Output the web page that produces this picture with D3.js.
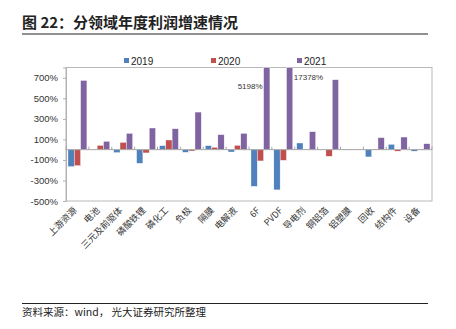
<!DOCTYPE html>
<html>
<head>
<meta charset="utf-8">
<script src="https://cdn.jsdelivr.net/npm/d3@7"></script>
<style>
body { margin: 0; background: #fff; }
text { font-family: "Liberation Sans", Arial, "Noto Sans CJK SC", sans-serif; }
.cjk { font-family: "Noto Sans CJK SC", sans-serif; }
</style>
</head>
<body>
<svg id="chart" width="456" height="329"></svg>
<script>
var categories = ["上游资源", "电池", "三元及前驱体", "磷酸铁锂", "磷化工", "负极", "隔膜", "电解液",
	"6F", "PVDF", "导电剂", "铜铝箔", "铝塑膜", "回收", "结构件", "设备"];
var seriesNames = ["2019", "2020", "2021"];
var values2019 = [-165, 1, -29, -133, 39, -26, 39, -23, -357, -392, 65, 2, 3, -71, 52, -15];
var values2020 = [-156, 42, 71, -32, 94, -13, 23, 42, -110, -104, 1, -65, 2, 5, -15, 6];
var values2021 = [674, 81, 159, 211, 204, 366, 146, 159, 5198, 17378, 175, 681, 1, 117, 123, 58];
var yTicks = [-500, -300, -100, 100, 300, 500, 700];
var colors = ["#4F81BD", "#C0504D", "#8064A2"];

var svg = d3.select("#chart");
var plotLeft = 66, plotRight = 432, plotTop = 67.5, plotBottom = 201;

// title and rules
svg.append("text").attr("class", "cjk")
	.attr("x", 22).attr("y", 28)
	.style("font-size", "15px").style("font-weight", "bold").attr("fill", "#222")
	.text("图 22：分领域年度利润增速情况");
svg.append("line").attr("x1", 22).attr("x2", 428).attr("y1", 34).attr("y2", 34)
	.attr("stroke", "#222").attr("stroke-width", 1);
svg.append("line").attr("x1", 22).attr("x2", 428).attr("y1", 303.5).attr("y2", 303.5)
	.attr("stroke", "#222").attr("stroke-width", 1);
svg.append("text").attr("class", "cjk")
	.attr("x", 22).attr("y", 316)
	.style("font-size", "10.5px").attr("fill", "#222")
	.text("资料来源：wind， 光大证券研究所整理");

var x = d3.scaleBand().domain(categories).range([plotLeft, plotRight]);
var xs = d3.scaleBand().domain(seriesNames)
	.range([0, x.bandwidth()]).paddingInner(0).paddingOuter(0.31);
var y = d3.scaleLinear().domain([-500, 800]).range([plotBottom, plotTop]).clamp(true);

// frame
svg.append("rect").attr("x", plotLeft).attr("y", plotTop)
	.attr("width", plotRight - plotLeft).attr("height", plotBottom - plotTop)
	.attr("fill", "none").attr("stroke", "#b8b8b8").attr("stroke-width", 1);

// y axis
var yAxis = svg.append("g").attr("transform", "translate(" + plotLeft + ",0)")
	.call(d3.axisLeft(y).tickValues(yTicks).tickSize(3).tickPadding(5)
		.tickFormat(function(d) { return d + "%"; }));
yAxis.select(".domain").attr("stroke", "#b0b0b0");
yAxis.selectAll(".tick line").attr("stroke", "#b0b0b0");
yAxis.selectAll("text").style("font-size", "9.5px").attr("fill", "#333")
	.style("font-family", "'Liberation Sans', Arial, sans-serif");

// bars
var table = categories.map(function(c, i)
{
	return { cat: c, vals: [values2019[i], values2020[i], values2021[i]] };
});

var groups = svg.selectAll(".grp").data(table).enter().append("g")
	.attr("transform", function(d) { return "translate(" + x(d.cat) + ",0)"; });

groups.selectAll("rect").data(function(d)
{
	return d.vals.map(function(v, j) { return { s: seriesNames[j], v: v, j: j }; });
})
.enter().append("rect")
.attr("x", function(d) { return xs(d.s); })
.attr("width", xs.bandwidth())
.attr("y", function(d) { return Math.min(y(d.v), y(0)); })
.attr("height", function(d) { return Math.abs(y(d.v) - y(0)); })
.attr("fill", function(d) { return colors[d.j]; })
.attr("stroke", "#fff").attr("stroke-width", 0.4);

// zero line with small category ticks
svg.append("line").attr("x1", plotLeft).attr("x2", plotRight).attr("y1", y(0)).attr("y2", y(0))
	.attr("stroke", "#a6a6a6").attr("stroke-width", 1);
svg.selectAll(".ctick").data(categories.concat(["end"])).enter().append("line")
	.attr("x1", function(d, i) { return plotLeft + i * x.step(); })
	.attr("x2", function(d, i) { return plotLeft + i * x.step(); })
	.attr("y1", y(0)).attr("y2", y(0) - 3)
	.attr("stroke", "#a6a6a6");

// labels for clipped bars
var over = table.filter(function(d) { return d.vals[2] > y.domain()[1]; });
svg.selectAll(".over").data(over).enter().append("text")
	.attr("x", function(d, i)
	{
		var bx = x(d.cat) + xs("2021");
		return i === 0 ? bx - 1 : bx + xs.bandwidth() + 1;
	})
	.attr("y", function(d, i) { return i === 0 ? 88.5 : 79.5; })
	.attr("text-anchor", function(d, i) { return i === 0 ? "end" : "start"; })
	.style("font-size", "8px").attr("fill", "#333")
	.text(function(d) { return d.vals[2] + "%"; });

// x labels
svg.selectAll(".xl").data(categories).enter().append("text")
	.attr("class", "cjk")
	.attr("transform", function(d)
	{
		return "translate(" + (x(d) + x.bandwidth() / 2) + "," + (plotBottom + 10) + ") rotate(-45)";
	})
	.attr("text-anchor", "end")
	.style("font-size", "9px").attr("fill", "#333")
	.text(function(d) { return d; });

// legend
var legendX = [124, 211, 297];
var lg = svg.selectAll(".lg").data(seriesNames).enter().append("g")
	.attr("transform", function(d, i) { return "translate(" + legendX[i] + ",58)"; });
lg.append("rect").attr("width", 5).attr("height", 5).attr("fill", function(d, i) { return colors[i]; });
lg.append("text").attr("x", 7).attr("y", 6.5).style("font-size", "10px").attr("fill", "#222")
	.text(function(d) { return d; });
</script>
</body>
</html>
